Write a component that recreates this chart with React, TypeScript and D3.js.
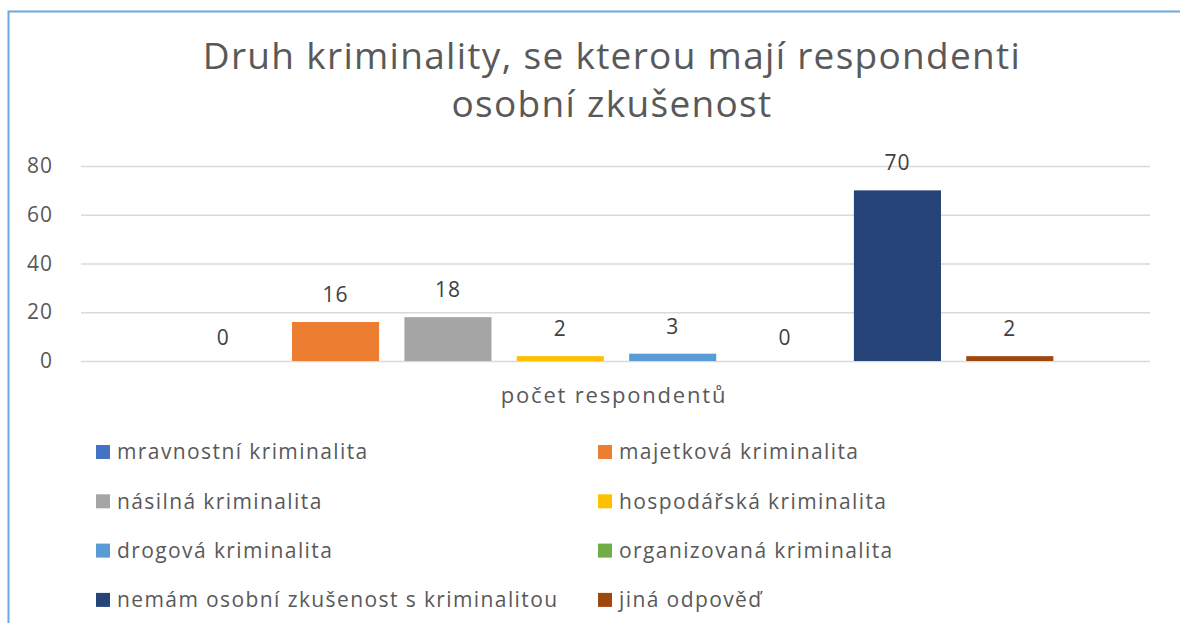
import React, { useEffect, useRef } from 'react';
import * as d3 from 'd3';

const WIDTH = 1180;
const HEIGHT = 623;

const TITLE_LINES = ['Druh kriminality, se kterou mají respondenti', 'osobní zkušenost'];
const CATEGORY = 'počet respondentů';

const SERIES = [
  'mravnostní kriminalita',
  'majetková kriminalita',
  'násilná kriminalita',
  'hospodářská kriminalita',
  'drogová kriminalita',
  'organizovaná kriminalita',
  'nemám osobní zkušenost s kriminalitou',
  'jiná odpověď',
];
const VALUES = [0, 16, 18, 2, 3, 0, 70, 2];
const COLORS = ['#4472C4', '#ED7D31', '#A5A5A5', '#FFC000', '#5B9BD5', '#70AD47', '#264478', '#9E480E'];
const Y_TICKS = [0, 20, 40, 60, 80];

const PLOT = { left: 81, right: 1150, top: 166, bottom: 361 };
const FONT = '"Open Sans", sans-serif';

export default function App() {
  const ref = useRef<SVGSVGElement>(null);

  useEffect(() => {
    const svg = d3.select(ref.current);
    svg.selectAll('*').remove();

    // chart frame: only top and left edges are visible in the screenshot
    svg.append('path')
      .attr('d', `M8.5,${HEIGHT} V11.5 H${WIDTH}`)
      .attr('fill', 'none')
      .attr('stroke', '#6FA8DC')
      .attr('stroke-width', 2);

    svg.append('g')
      .selectAll('text')
      .data(TITLE_LINES)
      .join('text')
      .attr('x', 612)
      .attr('y', (d, i) => 69 + i * 48)
      .attr('text-anchor', 'middle')
      .attr('font-family', FONT)
      .attr('font-size', 37)
      .attr('letter-spacing', 1.3)
      .attr('fill', '#595959')
      .text(d => d);

    const y = d3.scaleLinear()
      .domain([0, 80])
      .range([PLOT.bottom, PLOT.top]);

    const x = d3.scaleBand<string>()
      .domain(SERIES)
      .range([167, 1066])
      .paddingInner(0.225)
      .paddingOuter(0.1125);

    const yAxis = svg.append('g')
      .attr('transform', `translate(${PLOT.left}, 0)`)
      .call(d3.axisLeft(y).tickValues(Y_TICKS).tickSize(-(PLOT.right - PLOT.left)).tickPadding(28));
    yAxis.select('.domain').remove();
    yAxis.selectAll('line').attr('stroke', '#D9D9D9').attr('stroke-width', 1.5);
    yAxis.selectAll('text')
      .attr('font-family', FONT)
      .attr('font-size', 21)
      .attr('letter-spacing', 1)
      .attr('fill', '#595959');

    svg.append('g')
      .selectAll('rect')
      .data(VALUES)
      .join('rect')
      .attr('x', (d, i) => x(SERIES[i]) as number)
      .attr('width', x.bandwidth())
      .attr('y', d => y(d))
      .attr('height', d => y(0) - y(d))
      .attr('fill', (d, i) => COLORS[i]);

    svg.append('g')
      .selectAll('text')
      .data(VALUES)
      .join('text')
      .attr('x', (d, i) => (x(SERIES[i]) as number) + x.bandwidth() / 2)
      .attr('y', d => y(d) - 16 - (d === 0 ? 0 : 4))
      .attr('text-anchor', 'middle')
      .attr('font-family', FONT)
      .attr('font-size', 21)
      .attr('letter-spacing', 1)
      .attr('fill', '#404040')
      .text(d => d);

    svg.append('text')
      .attr('x', 614)
      .attr('y', 403)
      .attr('text-anchor', 'middle')
      .attr('font-family', FONT)
      .attr('font-size', 22)
      .attr('letter-spacing', 1.8)
      .attr('fill', '#595959')
      .text(CATEGORY);

    const legend = svg.append('g')
      .selectAll('g')
      .data(SERIES)
      .join('g')
      .attr('transform', (d, i) => `translate(${i % 2 === 0 ? 96 : 598}, ${452 + Math.floor(i / 2) * 49.3})`);

    legend.append('rect')
      .attr('y', -7)
      .attr('width', 14)
      .attr('height', 14)
      .attr('fill', (d, i) => COLORS[i]);

    legend.append('text')
      .attr('x', 21)
      .attr('dy', '0.35em')
      .attr('font-family', FONT)
      .attr('font-size', 21)
      .attr('letter-spacing', 1.4)
      .attr('fill', '#595959')
      .text(d => d);
  }, []);

  return (
    <svg
      ref={ref}
      width={WIDTH}
      height={HEIGHT}
      style={{ position: 'absolute', left: 0, top: 0, background: '#fff' }}
    />
  );
}
